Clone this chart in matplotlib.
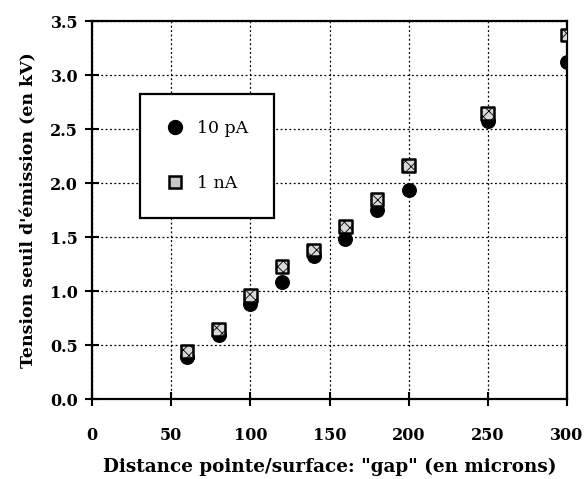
import matplotlib
matplotlib.use("Agg")
import matplotlib.pyplot as plt
from matplotlib.lines import Line2D

gap = [60, 80, 100, 120, 140, 160, 180, 200, 250, 300]
v_10pA = [0.39, 0.59, 0.88, 1.08, 1.32, 1.48, 1.75, 1.935, 2.57, 3.12]
v_1nA = [0.44, 0.645, 0.955, 1.225, 1.38, 1.60, 1.85, 2.16, 2.645, 3.37]
xticks = [0, 50, 100, 150, 200, 250, 300]
yticks = [0.0, 0.5, 1.0, 1.5, 2.0, 2.5, 3.0, 3.5]

plt.rcParams['font.family'] = ['DejaVu Serif']
plt.rcParams['hatch.linewidth'] = 0.6

fig = plt.figure(figsize=(5.85, 4.79), dpi=100)
ax = fig.add_axes([92/585, 80/479, 475/585, 378/479])

ax.scatter(gap, v_10pA, s=95, marker='o', color='black', zorder=3)
ax.scatter(gap, v_1nA, s=85, marker='s', facecolor='#d8d8d8', edgecolor='black',
           linewidths=1.8, hatch='xxx', zorder=4)

ax.set_xlim(0, 300)
ax.set_ylim(0, 3.5)
ax.set_xticks(xticks)
ax.set_yticks(yticks)
ax.set_yticklabels([f"{t:.1f}" for t in yticks])
ax.grid(True, linestyle=(0, (1.5, 2)), color='black', linewidth=0.9)
ax.set_axisbelow(True)
for sp in ax.spines.values():
    sp.set_linewidth(1.6)
ax.tick_params(direction='inout', length=10, width=1.5, labelsize=11.5)
ax.tick_params(axis='x', pad=15)
ax.tick_params(axis='y', pad=5)
for lab in ax.get_xticklabels() + ax.get_yticklabels():
    lab.set_fontweight('bold')

ax.set_xlabel('Distance pointe/surface: "gap" (en microns)', fontsize=13.2,
              fontweight='bold', labelpad=10)
ax.set_ylabel("Tension seuil d'émission (en kV)", fontsize=12.5,
              fontweight='bold', labelpad=9)

handles = [
    Line2D([], [], linestyle='none', marker='o', markersize=10, color='black'),
    Line2D([], [], linestyle='none', marker='s', markersize=9, markerfacecolor='#c8c8c8',
           markeredgecolor='black', markeredgewidth=1.8),
]
leg = ax.legend(handles, ['10 pA', '1 nA'], loc='upper left',
                bbox_to_anchor=((140-92)/475, (399-94)/378), fancybox=False,
                edgecolor='black', framealpha=1, fontsize=12.5, borderpad=1.5,
                labelspacing=2.2, handlelength=1.0, handletextpad=0.8,
                borderaxespad=0)
leg.get_frame().set_linewidth(1.6)

fig.savefig('out.png', dpi=100)
